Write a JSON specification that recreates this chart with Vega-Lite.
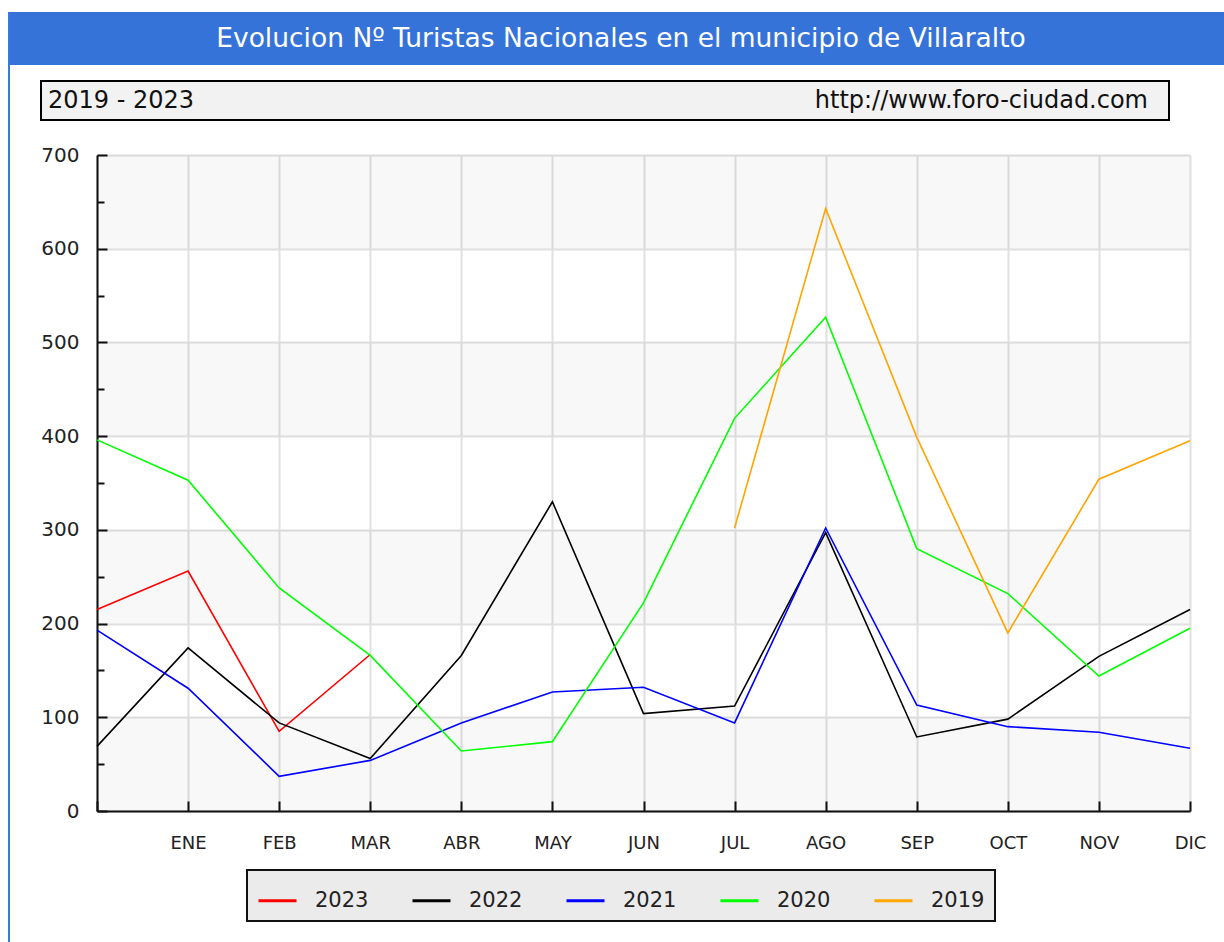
{
  "$schema": "https://vega.github.io/schema/vega-lite/v6.json",
  "padding": {"left": 8, "top": 12, "right": 0, "bottom": 0},
  "autosize": {"type": "pad"},
  "background": "white",
  "spacing": 0,
  "bounds": "full",
  "resolve": {"scale": {"color": "independent"}, "legend": {"color": "independent"}},
  "config": {
    "view": {"stroke": null},
    "font": "DejaVu Sans",
    "text": {"font": "DejaVu Sans"}
  },
  "hconcat": [
    {
      "width": 2,
      "height": 930,
      "view": {"fill": "#3a78dc", "stroke": null},
      "data": {"values": []},
      "mark": "point"
    },
    {
      "spacing": 15,
      "bounds": "full",
      "resolve": {"scale": {"color": "independent"}, "legend": {"color": "independent"}},
      "vconcat": [
        {
          "width": 1214,
          "height": 53,
          "view": {"fill": "#3673d9", "stroke": null},
          "data": {"values": [{"t": "Evolucion Nº Turistas Nacionales en el municipio de Villaralto"}]},
          "mark": {"type": "text", "color": "white", "fontSize": 26.5, "dx": 4, "font": "DejaVu Sans"},
          "encoding": {"text": {"field": "t"}}
        },
        {
          "spacing": 0,
          "bounds": "full",
          "hconcat": [
            {
              "width": 30,
              "height": 1,
              "data": {"values": []},
              "mark": "point"
            },
            {
              "width": 1128,
              "height": 39,
              "view": {"fill": "#f2f2f2", "stroke": "black", "strokeWidth": 2},
              "data": {"values": [{"a": "2019 - 2023", "b": "http://www.foro-ciudad.com"}]},
              "layer": [
                {
                  "mark": {"type": "text", "align": "left", "dx": 7, "fontSize": 24, "color": "#111"},
                  "encoding": {
                    "x": {"datum": 0, "type": "quantitative", "scale": {"domain": [0, 1]}, "axis": null},
                    "text": {"field": "a"}
                  }
                },
                {
                  "mark": {"type": "text", "align": "right", "dx": -21, "fontSize": 24, "color": "#111"},
                  "encoding": {
                    "x": {"datum": 1, "type": "quantitative", "scale": {"domain": [0, 1]}, "axis": null},
                    "text": {"field": "b"}
                  }
                }
              ]
            }
          ]
        },
        {
          "spacing": 0,
          "bounds": "full",
          "resolve": {"scale": {"color": "independent"}, "legend": {"color": "independent"}},
          "hconcat": [
            {
              "width": 30,
              "height": 1,
              "data": {"values": []},
              "mark": "point"
            },
            {
              "width": 1093,
              "height": 656,
              "view": {"fill": "white", "stroke": null},
              "title": {"text": " ", "fontSize": 8, "offset": 1},
              "layer": [
                {
                  "data": {"values": [{"lo": 0, "hi": 100}, {"lo": 200, "hi": 300}, {"lo": 400, "hi": 500}, {"lo": 600, "hi": 700}]},
                  "mark": {"type": "rect", "color": "#000000", "opacity": 0.028},
                  "encoding": {
                    "y": {
                      "field": "lo", "type": "quantitative",
                      "scale": {"domain": [0, 700], "nice": false, "zero": true},
                      "axis": {
                        "values": [0, 50, 100, 150, 200, 250, 300, 350, 400, 450, 500, 550, 600, 650, 700],
                        "labelExpr": "datum.value % 100 == 0 ? datum.label : ''",
                        "tickSize": {"condition": {"test": "datum.value % 100 == 0", "value": -10}, "value": -7},
                        "tickColor": "#111",
                        "tickWidth": 2,
                        "grid": true,
                        "gridColor": "#e0e0e0",
                        "gridWidth": 2,
                        "gridOpacity": {"condition": {"test": "datum.value % 100 == 0", "value": 1}, "value": 0},
                        "domainColor": "#111",
                        "domainWidth": 2,
                        "labelFontSize": 20,
                        "labelColor": "#222",
                        "labelPadding": 28,
                        "labelFont": "DejaVu Sans",
                        "title": null
                      }
                    },
                    "y2": {"field": "hi"}
                  }
                },
                {
                  "data": {"values": [
                    {"year": "2023", "m": 0, "v": 215}, {"year": "2023", "m": 1, "v": 256}, {"year": "2023", "m": 2, "v": 85}, {"year": "2023", "m": 3, "v": 167},
                    {"year": "2022", "m": 0, "v": 69}, {"year": "2022", "m": 1, "v": 174}, {"year": "2022", "m": 2, "v": 94}, {"year": "2022", "m": 3, "v": 56},
                    {"year": "2022", "m": 4, "v": 166}, {"year": "2022", "m": 5, "v": 330}, {"year": "2022", "m": 6, "v": 104}, {"year": "2022", "m": 7, "v": 112},
                    {"year": "2022", "m": 8, "v": 297}, {"year": "2022", "m": 9, "v": 79}, {"year": "2022", "m": 10, "v": 98}, {"year": "2022", "m": 11, "v": 165},
                    {"year": "2022", "m": 12, "v": 215},
                    {"year": "2021", "m": 0, "v": 193}, {"year": "2021", "m": 1, "v": 131}, {"year": "2021", "m": 2, "v": 37}, {"year": "2021", "m": 3, "v": 54},
                    {"year": "2021", "m": 4, "v": 94}, {"year": "2021", "m": 5, "v": 127}, {"year": "2021", "m": 6, "v": 132}, {"year": "2021", "m": 7, "v": 94},
                    {"year": "2021", "m": 8, "v": 302}, {"year": "2021", "m": 9, "v": 113}, {"year": "2021", "m": 10, "v": 90}, {"year": "2021", "m": 11, "v": 84},
                    {"year": "2021", "m": 12, "v": 67},
                    {"year": "2020", "m": 0, "v": 396}, {"year": "2020", "m": 1, "v": 353}, {"year": "2020", "m": 2, "v": 238}, {"year": "2020", "m": 3, "v": 166},
                    {"year": "2020", "m": 4, "v": 64}, {"year": "2020", "m": 5, "v": 74}, {"year": "2020", "m": 6, "v": 222}, {"year": "2020", "m": 7, "v": 419},
                    {"year": "2020", "m": 8, "v": 527}, {"year": "2020", "m": 9, "v": 280}, {"year": "2020", "m": 10, "v": 232}, {"year": "2020", "m": 11, "v": 144},
                    {"year": "2020", "m": 12, "v": 195},
                    {"year": "2019", "m": 7, "v": 302}, {"year": "2019", "m": 8, "v": 643}, {"year": "2019", "m": 9, "v": 399}, {"year": "2019", "m": 10, "v": 190},
                    {"year": "2019", "m": 11, "v": 354}, {"year": "2019", "m": 12, "v": 395}
                  ]},
                  "mark": {"type": "line", "strokeWidth": 1.6},
                  "encoding": {
                    "x": {
                      "field": "m", "type": "quantitative",
                      "scale": {"domain": [0, 12], "nice": false, "zero": false},
                      "axis": {
                        "values": [0, 1, 2, 3, 4, 5, 6, 7, 8, 9, 10, 11, 12],
                        "labelExpr": "['', 'ENE', 'FEB', 'MAR', 'ABR', 'MAY', 'JUN', 'JUL', 'AGO', 'SEP', 'OCT', 'NOV', 'DIC'][datum.value]",
                        "tickSize": -10,
                        "tickColor": "#111",
                        "tickWidth": 2,
                        "grid": true,
                        "gridColor": "#e0e0e0",
                        "gridWidth": 2,
                        "domainColor": "#111",
                        "domainWidth": 2,
                        "labelFontSize": 18,
                        "labelColor": "#222",
                        "labelPadding": 33,
                        "labelFont": "DejaVu Sans",
                        "labelFlush": false,
                        "labelOverlap": false,
                        "title": null
                      }
                    },
                    "y": {"field": "v", "type": "quantitative"},
                    "color": {
                      "field": "year", "type": "nominal",
                      "scale": {"domain": ["2023", "2022", "2021", "2020", "2019"], "range": ["#ff0000", "#000000", "#0000ff", "#00ff00", "#ffa500"]},
                      "legend": {
                        "title": null,
                        "orient": "none",
                        "legendX": 150,
                        "legendY": 715,
                        "direction": "horizontal",
                        "symbolType": "stroke",
                        "symbolSize": 1444,
                        "symbolStrokeWidth": 3,
                        "labelFontSize": 21,
                        "labelColor": "#222",
                        "labelFont": "DejaVu Sans",
                        "labelOffset": 17,
                        "columnPadding": 37,
                        "padding": 10,
                        "fillColor": "#ebebeb",
                        "strokeColor": "#111",
                        "encode": {"legend": {"update": {"strokeWidth": {"value": 2}}}}
                      }
                    }
                  }
                }
              ]
            }
          ]
        }
      ]
    }
  ]
}
